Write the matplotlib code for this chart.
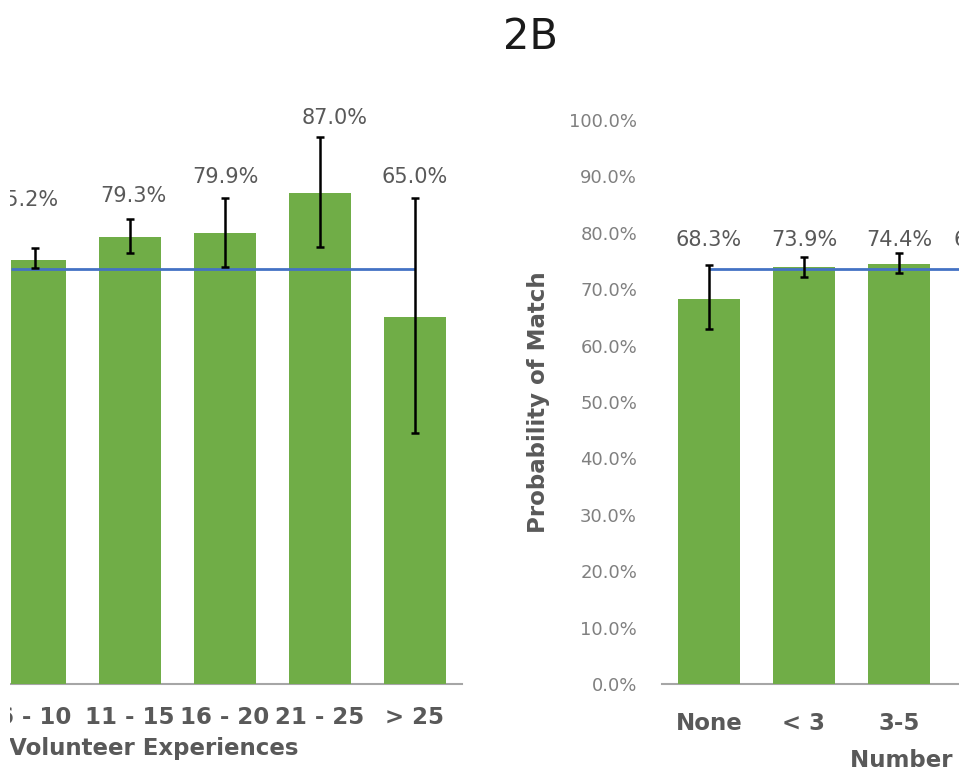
import numpy as np
import matplotlib
matplotlib.use("Agg")
import matplotlib.pyplot as plt
from matplotlib.patches import Rectangle

plt.rcParams["font.family"] = ["DejaVu Sans"]

# ---- data -------------------------------------------------------------
vol_cats = ["6 - 10", "11 - 15", "16 - 20", "21 - 25", "> 25"]
vol_prob = [75.2, 79.3, 79.9, 87.0, 65.0]
vol_ci_low = [73.8, 76.5, 74.0, 77.5, 44.5]
vol_ci_high = [77.3, 82.5, 86.2, 97.0, 86.2]

num_cats = ["None", "< 3", "3-5", "6-10"]
num_prob = [68.3, 73.9, 74.4, 66.3]
num_ci_low = [62.9, 72.2, 72.9, 60.5]
num_ci_high = [74.3, 75.7, 76.5, 72.0]

overall_rate = 73.5
y_ticks = [0, 10, 20, 30, 40, 50, 60, 70, 80, 90, 100]

# ---- layout / style ---------------------------------------------------
W, H = 959, 778
GREEN = "#70AD47"
BLUE = "#4472C4"
TXT = "#595959"
AXIS = "#A6A6A6"
CAT_PX = 95.0  # pixels per category

vol_label_y = [85.8, 86.5, 89.9, 100.4, 89.9]
vol_label_dx = [-0.1, 0.04, 0.0, 0.15, 0.0]
num_label_y = [78.7, 78.7, 78.7, 78.7]
num_label_dx = [0.0, 0.0, 0.0, -0.08]


def rect(x0, y_top, x1, y_bot):
    return [x0 / W, 1 - y_bot / H, (x1 - x0) / W, (y_bot - y_top) / H]


fig = plt.figure(figsize=(W / 100, H / 100), dpi=100)
fig.patch.set_facecolor("white")

ax1 = fig.add_axes(rect(11, 120, 462.5, 684))
ax2 = fig.add_axes(rect(661.5, 120, 1041.5, 684))

ax1.set_xlim(len(vol_cats) - 0.5 - (462.5 - 11) / CAT_PX, len(vol_cats) - 0.5)
ax2.set_xlim(-0.5, len(num_cats) - 0.5)


def draw_panel(ax, cats, prob, lo, hi, label_y, label_dx, line_from):
    x = np.arange(len(cats))
    prob = np.asarray(prob)
    ax.bar(x, prob, width=0.65, color=GREEN, zorder=2)
    ax.hlines(overall_rate, line_from, x[-1], color=BLUE, lw=2.0, zorder=3)
    yerr = [prob - np.asarray(lo), np.asarray(hi) - prob]
    ax.errorbar(x, prob, yerr=yerr, fmt="none", ecolor="black",
                elinewidth=1.8, capsize=3, capthick=1.8, zorder=4)
    for xi, p, ly, dx in zip(x, prob, label_y, label_dx):
        ax.text(xi + dx, ly, f"{p:.1f}%", ha="center", va="center",
                fontsize=15, color=TXT, zorder=5)
    ax.set_ylim(0, 100)
    ax.set_xticks(x)
    ax.set_xticklabels(cats, fontsize=16.5, fontweight="bold", color=TXT)
    for side in ("top", "right", "left"):
        ax.spines[side].set_visible(False)
    ax.spines["bottom"].set_color(AXIS)
    ax.spines["bottom"].set_linewidth(1.5)
    ax.spines["bottom"].set_zorder(1)
    ax.set_facecolor("white")


draw_panel(ax1, vol_cats, vol_prob, vol_ci_low, vol_ci_high,
           vol_label_y, vol_label_dx, ax1.get_xlim()[0])
draw_panel(ax2, num_cats, num_prob, num_ci_low, num_ci_high,
           num_label_y, num_label_dx, 0)

# left panel: value axis lies outside the view
ax1.set_yticks([])
ax1.tick_params(axis="x", length=0, pad=15.8)
ax1.set_xlabel("Number of Volunteer Experiences", fontsize=16.5,
               fontweight="bold", color=TXT)
ax1.xaxis.set_label_coords((82 - 11) / (462.5 - 11), -(737 - 684) / 564)

# right panel value axis
ax2.set_yticks(y_ticks)
ax2.set_yticklabels([f"{v:.1f}%" for v in y_ticks], fontsize=13, color="#808080")
ax2.tick_params(axis="y", length=0, pad=17.6)
ax2.tick_params(axis="x", length=0, pad=20.2)
ax2.set_ylabel("Probability of Match", fontsize=16.5, fontweight="bold", color=TXT)
ax2.yaxis.set_label_coords((549.5 - 661.5) / 380, 0.5)
ax2.set_xlabel("Number of Research Experiences", fontsize=16.5,
               fontweight="bold", color=TXT)
ax2.xaxis.set_label_coords((845 + 218 - 661.5) / 380, -(749 - 684) / 564)

fig.text(531 / W, 1 - 37.4 / H, "2B", ha="center", va="center",
         fontsize=30, color="#1A1A1A")

# blank margin strip along the left border
fig.add_artist(Rectangle((0, 0), 10 / W, 1, transform=fig.transFigure,
                         facecolor="white", edgecolor="none", zorder=20))

fig.savefig("out.png", dpi=100, facecolor="white")
